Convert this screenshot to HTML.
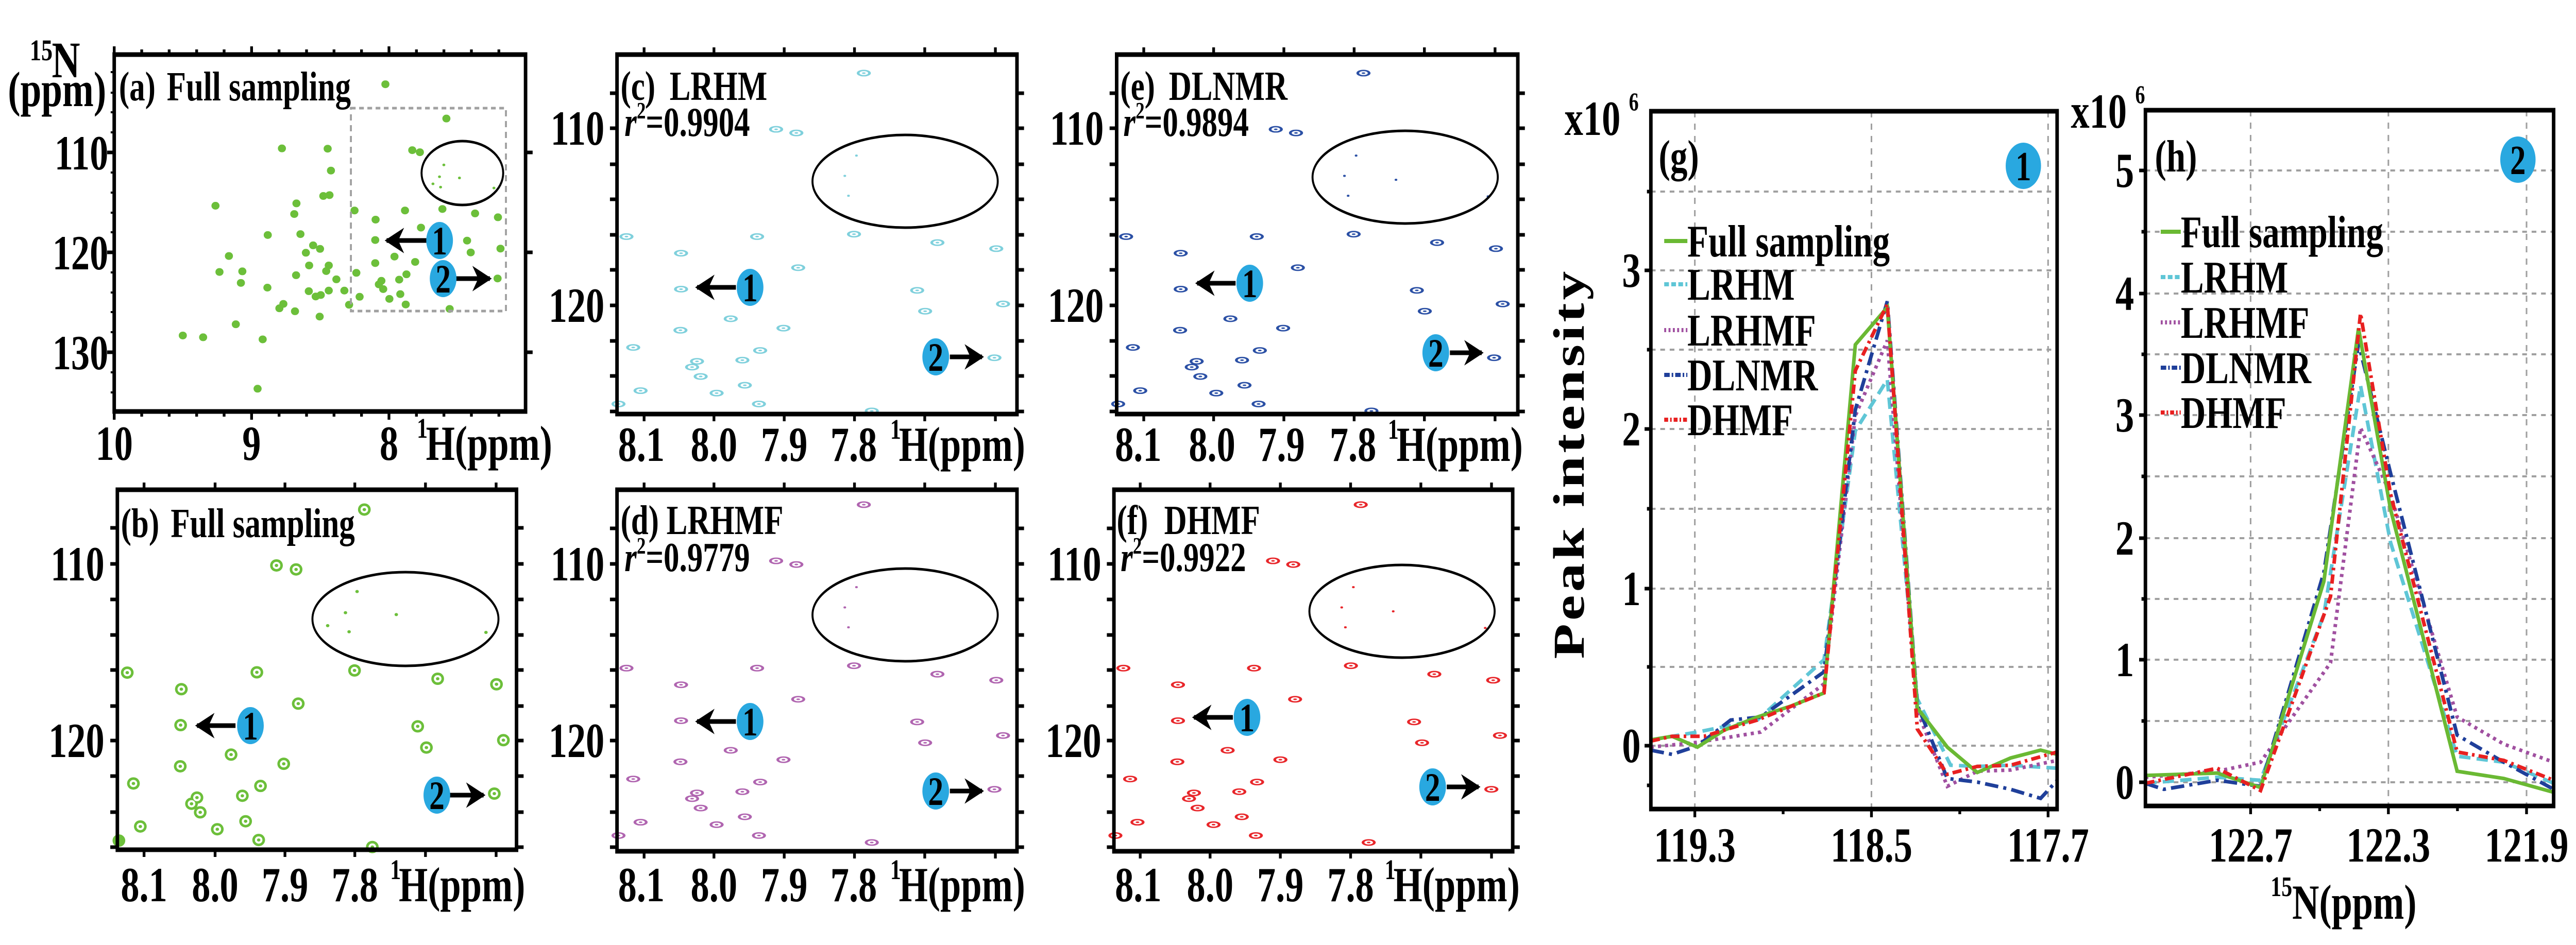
<!DOCTYPE html>
<html><head><meta charset="utf-8"><style>
html,body{margin:0;padding:0;background:#fff;width:100vw;height:100vh;overflow:hidden;}
svg{display:block;width:100vw;height:100vh;}
text{font-family:"Liberation Serif",serif;font-weight:bold;fill:#000;}
.ns{vector-effect:non-scaling-stroke;}
</style></head><body>
<svg width="100%" height="100%" viewBox="0 0 6563 1835" preserveAspectRatio="none" xmlns="http://www.w3.org/2000/svg">
<defs>
<marker id="ah" viewBox="0 0 10 10" refX="9" refY="5" markerWidth="6" markerHeight="5.5" orient="auto" markerUnits="strokeWidth"><path d="M0 0 L10 5 L0 10 L3 5 Z" fill="#000"/></marker>
<path id="pkc" d="M480 242h1M337 428h1M370 440h1M93 783h1M306 783h1M464 775h1M600 803h1M182 838h1M696 823h1M373 886h1M182 957h1M567 961h1M707 1006h1M580 1030h1M263 1055h1M349 1086h1M181 1093h1M104 1150h1M311 1160h1M693 1184h1M282 1192h1M208 1196h1M200 1215h1M214 1246h1M116 1293h1M286 1275h1M240 1301h1M309 1337h1M493 1360h1M80 1337h1"/>
</defs>

<!-- ================= PANEL A ================= -->
<g transform="scale(0.925,0.574)">
<path class="ns" fill="none" stroke="#6cbf3a" stroke-width="15" stroke-linecap="round" d="M1061 285h1M1229 401h1M776 502h1M902 503h1M1135 508h1M1156 515h1M911 577h1M890 663h1M907 660h1M593 696h1M816 688h1M810 724h1M976 712h1M1115 712h1M1218 707h1M1308 722h1M1371 735h1M1034 743h1M1159 770h1M737 795h1M827 792h1M1033 812h1M1286 814h1M862 830h1M881 842h1M842 855h1M630 866h1M1086 868h1M1296 854h1M1378 841h1M1143 886h1M1033 890h1M604 920h1M667 918h1M851 898h1M905 898h1M898 917h1M981 923h1M1119 928h1M815 931h1M926 945h1M1050 950h1M1043 962h1M663 957h1M1055 978h1M1099 946h1M736 973h1M850 985h1M869 1003h1M883 998h1M905 983h1M948 983h1M990 1004h1M1102 995h1M1072 1011h1M1117 1030h1M961 1031h1M780 1028h1M769 1043h1M812 1053h1M1370 942h1M1238 1045h1M880 1071h1M649 1097h1M503 1135h1M559 1141h1M723 1148h1M709 1315h1"/>
<path class="ns" fill="none" stroke="#6cbf3a" stroke-width="5" stroke-linecap="round" d="M1222 558h1M1210 598h1M1265 602h1M1192 622h1M1213 633h1M1360 636h1"/>
</g>
<rect x="894" y="210" width="395" height="394" fill="none" stroke="#a0a0a0" stroke-width="5" stroke-dasharray="12 9"/>
<ellipse cx="1178" cy="336" rx="104" ry="62" fill="none" stroke="#000" stroke-width="5"/>
<rect x="291" y="106" width="1048" height="693" fill="none" stroke="#000" stroke-width="9"/>
<path stroke="#000" stroke-width="7" d="M291 296h-18M291 490h-18M291 684h-18M1339 296h18M1339 490h18M1339 684h18M291 106v-16M641 106v-16M991 106v-16M291 799v16M641 799v16M991 799v16M361 106v-10M431 106v-10M501 106v-10M571 106v-10M711 106v-10M781 106v-10M851 106v-10M921 106v-10M1061 106v-10M1131 106v-10M1201 106v-10M1271 106v-10M361 799v10M431 799v10M501 799v10M571 799v10M711 799v10M781 799v10M851 799v10M921 799v10M1061 799v10M1131 799v10M1201 799v10M1271 799v10"/>
<path stroke="#000" stroke-width="4" d="M291 140h-9M291 180h-9M291 218h-9M291 257h-9M291 335h-9M291 374h-9M291 413h-9M291 451h-9M291 529h-9M291 568h-9M291 606h-9M291 645h-9M291 723h-9M291 762h-9"/>
<text x="76" y="117" font-size="58">15</text><text x="132" y="150" font-size="100">N</text>
<text x="20" y="206" font-size="96">(ppm)</text>
<text x="303" y="195" font-size="80">(a)</text><text x="425" y="195" font-size="80">Full sampling</text>
<text x="276" y="329" font-size="95" text-anchor="end">110</text>
<text x="276" y="523" font-size="95" text-anchor="end">120</text>
<text x="276" y="717" font-size="95" text-anchor="end">130</text>
<text x="291" y="893" font-size="95" text-anchor="middle">10</text>
<text x="641" y="893" font-size="95" text-anchor="middle">9</text>
<text x="991" y="893" font-size="95" text-anchor="middle">8</text>
<text x="1062" y="850" font-size="55">1</text><text x="1085" y="893" font-size="95">H(ppm)</text>
<line x1="1087" y1="467" x2="985" y2="467" stroke="#000" stroke-width="9" marker-end="url(#ah)"/>
<ellipse cx="1120" cy="467" rx="34" ry="36" fill="#29a8e0"/><text x="1120" y="494" font-size="78" text-anchor="middle">1</text>
<line x1="1160" y1="541" x2="1248" y2="541" stroke="#000" stroke-width="9" marker-end="url(#ah)"/>
<ellipse cx="1129" cy="541" rx="34" ry="36" fill="#29a8e0"/><text x="1129" y="568" font-size="78" text-anchor="middle">2</text>

<!-- ================= PANEL B ================= -->
<g transform="translate(0,900) scale(0.925,0.5963)">
<path class="ns" fill="none" stroke="#6cbf3a" stroke-width="24" stroke-linecap="round" d="M1003 150h1M761 332h1M815 345h1M350 681h1M707 680h1M976 674h1M1205 701h1M499 735h1M1367 719h1M821 782h1M497 852h1M1150 856h1M1386 901h1M1174 925h1M636 948h1M781 978h1M496 986h1M367 1042h1M717 1050h1M1361 1075h1M667 1082h1M542 1088h1M527 1108h1M551 1136h1M386 1182h1M676 1165h1M598 1191h1M712 1226h1M1025 1249h1M327 1228h1"/>
<path class="ns" fill="none" stroke="#fff" stroke-width="14" stroke-linecap="round" d="M1003 150h1M761 332h1M815 345h1M350 681h1M707 680h1M976 674h1M1205 701h1M499 735h1M1367 719h1M821 782h1M497 852h1M1150 856h1M1386 901h1M1174 925h1M636 948h1M781 978h1M496 986h1M367 1042h1M717 1050h1M1361 1075h1M667 1082h1M542 1088h1M527 1108h1M551 1136h1M386 1182h1M676 1165h1M598 1191h1M712 1226h1M1025 1249h1"/>
<path class="ns" fill="none" stroke="#6cbf3a" stroke-width="6" stroke-linecap="round" d="M1003 150h1M761 332h1M815 345h1M350 681h1M707 680h1M976 674h1M1205 701h1M499 735h1M1367 719h1M821 782h1M497 852h1M1150 856h1M1386 901h1M1174 925h1M636 948h1M781 978h1M496 986h1M367 1042h1M717 1050h1M1361 1075h1M667 1082h1M542 1088h1M527 1108h1M551 1136h1M386 1182h1M676 1165h1M598 1191h1M712 1226h1M1025 1249h1M983 417h1M951 486h1M1091 492h1M902 528h1M961 548h1M1338 550h1"/>
</g>
<ellipse cx="1033" cy="1202" rx="237" ry="91" fill="none" stroke="#000" stroke-width="5"/>
<rect x="299" y="951" width="1017" height="699" fill="none" stroke="#000" stroke-width="9"/>
<path stroke="#000" stroke-width="7" d="M299 1025h-18M299 1095h-18M299 1164h-18M299 1233h-18M299 1301h-18M299 1371h-18M299 1438h-18M299 1507h-18M299 1577h-18M299 1645h-18M1316 1025h18M1316 1095h18M1316 1164h18M1316 1233h18M1316 1301h18M1316 1371h18M1316 1438h18M1316 1507h18M1316 1577h18M1316 1645h18M367 951v-14M548 951v-14M726 951v-14M904 951v-14M1084 951v-14M1264 951v-14M367 1650v14M548 1650v14M726 1650v14M904 1650v14M1084 1650v14M1264 1650v14"/>
<text x="308" y="1043" font-size="80">(b)</text><text x="435" y="1043" font-size="80">Full sampling</text>
<text x="266" y="1127" font-size="95" text-anchor="end">110</text>
<text x="266" y="1470" font-size="95" text-anchor="end">120</text>
<text x="367" y="1750" font-size="95" text-anchor="middle">8.1</text>
<text x="548" y="1750" font-size="95" text-anchor="middle">8.0</text>
<text x="726" y="1750" font-size="95" text-anchor="middle">7.9</text>
<text x="904" y="1750" font-size="95" text-anchor="middle">7.8</text>
<text x="994" y="1707" font-size="55">1</text><text x="1016" y="1750" font-size="95">H(ppm)</text>
<line x1="600" y1="1409" x2="502" y2="1409" stroke="#000" stroke-width="9" marker-end="url(#ah)"/>
<ellipse cx="638" cy="1409" rx="34" ry="36" fill="#29a8e0"/><text x="638" y="1436" font-size="78" text-anchor="middle">1</text>
<line x1="1145" y1="1544" x2="1232" y2="1544" stroke="#000" stroke-width="9" marker-end="url(#ah)"/>
<ellipse cx="1113" cy="1544" rx="34" ry="36" fill="#29a8e0"/><text x="1113" y="1571" font-size="78" text-anchor="middle">2</text>

<!-- ================= PANELS C, E, D, F peaks ================= -->
<g transform="translate(1450,0) scale(1.5625,0.5867)">
<use href="#pkc" class="ns" fill="none" stroke="#7fd0dc" stroke-width="22" stroke-linecap="round"/>
<use href="#pkc" class="ns" fill="none" stroke="#fff" stroke-width="13" stroke-linecap="round"/>
<use href="#pkc" class="ns" fill="none" stroke="#7fd0dc" stroke-width="5" stroke-linecap="round"/>
<path class="ns" fill="none" stroke="#7fd0dc" stroke-width="4" stroke-linecap="round" d="M468 515h1M449 582h1M455 648h1"/>
</g>
<g transform="translate(2723,0) scale(1.5625,0.5867)">
<use href="#pkc" class="ns" fill="none" stroke="#2b50a5" stroke-width="22" stroke-linecap="round"/>
<use href="#pkc" class="ns" fill="none" stroke="#fff" stroke-width="13" stroke-linecap="round"/>
<use href="#pkc" class="ns" fill="none" stroke="#2b50a5" stroke-width="5" stroke-linecap="round"/>
<path class="ns" fill="none" stroke="#2b50a5" stroke-width="4" stroke-linecap="round" d="M468 515h1M449 582h1M455 648h1M533 595h1M683 650h1"/>
</g>
<g transform="translate(1450,838) scale(1.5625,0.5867)">
<use href="#pkc" class="ns" fill="none" stroke="#b065b0" stroke-width="22" stroke-linecap="round"/>
<use href="#pkc" class="ns" fill="none" stroke="#fff" stroke-width="13" stroke-linecap="round"/>
<use href="#pkc" class="ns" fill="none" stroke="#b065b0" stroke-width="5" stroke-linecap="round"/>
<path class="ns" fill="none" stroke="#b065b0" stroke-width="4" stroke-linecap="round" d="M468 515h1M449 582h1M455 648h1"/>
</g>
<g transform="translate(2716,838) scale(1.5625,0.5867)">
<use href="#pkc" class="ns" fill="none" stroke="#e8262a" stroke-width="22" stroke-linecap="round"/>
<use href="#pkc" class="ns" fill="none" stroke="#fff" stroke-width="13" stroke-linecap="round"/>
<use href="#pkc" class="ns" fill="none" stroke="#e8262a" stroke-width="5" stroke-linecap="round"/>
<path class="ns" fill="none" stroke="#e8262a" stroke-width="4" stroke-linecap="round" d="M468 515h1M449 582h1M455 648h1M533 595h1M683 650h1"/>
</g>

<!-- frames c,e,d,f -->
<g fill="none" stroke="#000" stroke-width="5">
<ellipse cx="2306" cy="352" rx="236" ry="90"/>
<ellipse cx="3580" cy="344" rx="236" ry="90"/>
<ellipse cx="2306" cy="1194" rx="236" ry="90"/>
<ellipse cx="3572" cy="1187" rx="236" ry="90"/>
</g>
<g fill="none" stroke="#000" stroke-width="9">
<rect x="1572" y="106" width="1019" height="698"/>
<rect x="2845" y="106" width="1022" height="698"/>
<rect x="1572" y="951" width="1019" height="702"/>
<rect x="2838" y="951" width="1016" height="702"/>
</g>
<path stroke="#000" stroke-width="7" d="M1572 181h-18M1572 249h-18M1572 319h-18M1572 387h-18M1572 456h-18M1572 524h-18M1572 593h-18M1572 662h-18M1572 730h-18M1572 799h-18M2591 181h18M2591 249h18M2591 319h18M2591 387h18M2591 456h18M2591 524h18M2591 593h18M2591 662h18M2591 730h18M2591 799h18
M2845 181h-18M2845 249h-18M2845 319h-18M2845 387h-18M2845 456h-18M2845 524h-18M2845 593h-18M2845 662h-18M2845 730h-18M2845 799h-18M3867 181h18M3867 249h18M3867 319h18M3867 387h18M3867 456h18M3867 524h18M3867 593h18M3867 662h18M3867 730h18M3867 799h18
M1641 106v-14M1819 106v-14M1998 106v-14M2177 106v-14M2356 106v-14M2536 106v-14M1641 804v14M1819 804v14M1998 804v14M2177 804v14M2356 804v14M2536 804v14
M2914 106v-14M3092 106v-14M3271 106v-14M3450 106v-14M3629 106v-14M3809 106v-14M2914 804v14M3092 804v14M3271 804v14M3450 804v14M3629 804v14M3809 804v14
M1572 1026h-18M1572 1095h-18M1572 1164h-18M1572 1233h-18M1572 1301h-18M1572 1371h-18M1572 1438h-18M1572 1507h-18M1572 1577h-18M1572 1645h-18M2591 1026h18M2591 1095h18M2591 1164h18M2591 1233h18M2591 1301h18M2591 1371h18M2591 1438h18M2591 1507h18M2591 1577h18M2591 1645h18
M2838 1026h-18M2838 1095h-18M2838 1164h-18M2838 1233h-18M2838 1301h-18M2838 1371h-18M2838 1438h-18M2838 1507h-18M2838 1577h-18M2838 1645h-18M3854 1026h18M3854 1095h18M3854 1164h18M3854 1233h18M3854 1301h18M3854 1371h18M3854 1438h18M3854 1507h18M3854 1577h18M3854 1645h18
M1641 951v-14M1819 951v-14M1998 951v-14M2177 951v-14M2356 951v-14M2536 951v-14M1641 1653v14M1819 1653v14M1998 1653v14M2177 1653v14M2356 1653v14M2536 1653v14
M2905 951v-14M3083 951v-14M3262 951v-14M3441 951v-14M3620 951v-14M3800 951v-14M2905 1653v14M3083 1653v14M3262 1653v14M3441 1653v14M3620 1653v14M3800 1653v14"/>

<!-- labels c -->
<text x="1581" y="194" font-size="80">(c)</text><text x="1706" y="194" font-size="80">LRHM</text>
<text x="1591" y="264" font-size="80"><tspan font-style="italic">r</tspan><tspan font-size="46" dy="-34">2</tspan><tspan dy="34">=0.9904</tspan></text>
<text x="1540" y="281" font-size="95" text-anchor="end">110</text>
<text x="1540" y="625" font-size="95" text-anchor="end">120</text>
<text x="1634" y="895" font-size="95" text-anchor="middle">8.1</text>
<text x="1819" y="895" font-size="95" text-anchor="middle">8.0</text>
<text x="1998" y="895" font-size="95" text-anchor="middle">7.9</text>
<text x="2175" y="895" font-size="95" text-anchor="middle">7.8</text>
<text x="2268" y="852" font-size="55">1</text><text x="2290" y="895" font-size="95">H(ppm)</text>
<!-- labels e -->
<text x="2854" y="194" font-size="80">(e)</text><text x="2978" y="194" font-size="80">DLNMR</text>
<text x="2862" y="264" font-size="80"><tspan font-style="italic">r</tspan><tspan font-size="46" dy="-34">2</tspan><tspan dy="34">=0.9894</tspan></text>
<text x="2812" y="281" font-size="95" text-anchor="end">110</text>
<text x="2812" y="625" font-size="95" text-anchor="end">120</text>
<text x="2900" y="895" font-size="95" text-anchor="middle">8.1</text>
<text x="3088" y="895" font-size="95" text-anchor="middle">8.0</text>
<text x="3265" y="895" font-size="95" text-anchor="middle">7.9</text>
<text x="3447" y="895" font-size="95" text-anchor="middle">7.8</text>
<text x="3536" y="852" font-size="55">1</text><text x="3558" y="895" font-size="95">H(ppm)</text>
<!-- labels d -->
<text x="1581" y="1037" font-size="80">(d)</text><text x="1698" y="1037" font-size="80">LRHMF</text>
<text x="1591" y="1109" font-size="80"><tspan font-style="italic">r</tspan><tspan font-size="46" dy="-34">2</tspan><tspan dy="34">=0.9779</tspan></text>
<text x="1540" y="1127" font-size="95" text-anchor="end">110</text>
<text x="1540" y="1470" font-size="95" text-anchor="end">120</text>
<text x="1634" y="1750" font-size="95" text-anchor="middle">8.1</text>
<text x="1819" y="1750" font-size="95" text-anchor="middle">8.0</text>
<text x="1998" y="1750" font-size="95" text-anchor="middle">7.9</text>
<text x="2175" y="1750" font-size="95" text-anchor="middle">7.8</text>
<text x="2268" y="1707" font-size="55">1</text><text x="2290" y="1750" font-size="95">H(ppm)</text>
<!-- labels f -->
<text x="2845" y="1037" font-size="80">(f)</text><text x="2966" y="1037" font-size="80">DHMF</text>
<text x="2855" y="1109" font-size="80"><tspan font-style="italic">r</tspan><tspan font-size="46" dy="-34">2</tspan><tspan dy="34">=0.9922</tspan></text>
<text x="2806" y="1127" font-size="95" text-anchor="end">110</text>
<text x="2806" y="1470" font-size="95" text-anchor="end">120</text>
<text x="2900" y="1750" font-size="95" text-anchor="middle">8.1</text>
<text x="3083" y="1750" font-size="95" text-anchor="middle">8.0</text>
<text x="3262" y="1750" font-size="95" text-anchor="middle">7.9</text>
<text x="3441" y="1750" font-size="95" text-anchor="middle">7.8</text>
<text x="3528" y="1707" font-size="55">1</text><text x="3550" y="1750" font-size="95">H(ppm)</text>

<!-- badges c,e,d,f -->
<g stroke="#000" stroke-width="9">
<line x1="1875" y1="558" x2="1776" y2="558" marker-end="url(#ah)"/>
<line x1="2420" y1="693" x2="2502" y2="693" marker-end="url(#ah)"/>
<line x1="3148" y1="550" x2="3050" y2="550" marker-end="url(#ah)"/>
<line x1="3694" y1="685" x2="3775" y2="685" marker-end="url(#ah)"/>
<line x1="1875" y1="1401" x2="1776" y2="1401" marker-end="url(#ah)"/>
<line x1="2420" y1="1536" x2="2502" y2="1536" marker-end="url(#ah)"/>
<line x1="3141" y1="1393" x2="3042" y2="1393" marker-end="url(#ah)"/>
<line x1="3686" y1="1528" x2="3767" y2="1528" marker-end="url(#ah)"/>
</g>
<g fill="#29a8e0">
<ellipse cx="1911" cy="558" rx="34" ry="36"/><ellipse cx="2384" cy="693" rx="34" ry="36"/>
<ellipse cx="3184" cy="550" rx="34" ry="36"/><ellipse cx="3658" cy="685" rx="34" ry="36"/>
<ellipse cx="1911" cy="1401" rx="34" ry="36"/><ellipse cx="2384" cy="1536" rx="34" ry="36"/>
<ellipse cx="3177" cy="1393" rx="34" ry="36"/><ellipse cx="3650" cy="1528" rx="34" ry="36"/>
</g>
<g font-size="78" text-anchor="middle">
<text x="1911" y="585">1</text><text x="2384" y="720">2</text>
<text x="3184" y="577">1</text><text x="3658" y="712">2</text>
<text x="1911" y="1428">1</text><text x="2384" y="1563">2</text>
<text x="3177" y="1420">1</text><text x="3650" y="1555">2</text>
</g>

<!-- ================= PANELS G, H ================= -->
<g fill="none" stroke="#a0a0a0" stroke-width="4" stroke-dasharray="12 12">
<path d="M4318 216V1571M4768 216V1571M5218 216V1571M4206 1448H5241M4206 1295H5241M4206 1143H5241M4206 988H5241M4206 833H5241M4206 679H5241M4206 525H5241M4206 372H5241"/>
<path d="M5734 214V1565M6085 214V1565M6437 214V1565M5466 1519H6506M5466 1400H6506M5466 1281H6506M5466 1163H6506M5466 1045H6506M5466 925H6506M5466 806H6506M5466 688H6506M5466 570H6506M5466 450H6506M5466 331H6506"/>
</g>
<g transform="translate(3900,0) scale(1.698,1.170)" fill="none" stroke-width="7">
<polyline class="ns" stroke="#5fc6d6" stroke-dasharray="22 12" points="180,1228 250,1215 340,1195 440,1095 487,715 535,630 580,1160 630,1270 670,1272 720,1270 790,1275"/>
<polyline class="ns" stroke="#a050a0" stroke-dasharray="6 8" points="180,1240 250,1232 345,1215 440,1135 487,690 535,565 580,1180 625,1305 670,1280 720,1278 790,1262"/>
<polyline class="ns" stroke="#1f3f9a" stroke-dasharray="26 10 6 10" points="180,1245 212,1252 250,1238 300,1195 345,1190 440,1115 487,680 535,500 580,1170 625,1292 670,1298 720,1310 765,1325 790,1295"/>
<polyline class="ns" stroke="#6ab933" points="180,1228 212,1222 250,1240 290,1212 340,1190 390,1172 440,1150 487,572 535,510 580,1175 625,1240 670,1282 720,1258 765,1245 790,1252"/>
<polyline class="ns" stroke="#e82020" stroke-dasharray="18 8 5 8" points="180,1230 212,1222 260,1222 340,1195 440,1150 487,615 535,505 580,1210 625,1285 670,1272 720,1270 790,1248"/>

<polyline class="ns" stroke="#5fc6d6" stroke-dasharray="22 12" points="922,1300 1030,1290 1095,1295 1190,1020 1245,640 1290,900 1390,1255 1460,1265 1535,1300"/>
<polyline class="ns" stroke="#a050a0" stroke-dasharray="6 8" points="922,1290 1030,1280 1095,1265 1200,1100 1245,710 1290,820 1390,1190 1460,1235 1535,1265"/>
<polyline class="ns" stroke="#1f3f9a" stroke-dasharray="26 10 6 10" points="922,1300 950,1310 1030,1295 1095,1305 1190,950 1242,570 1290,785 1390,1220 1460,1265 1535,1310"/>
<polyline class="ns" stroke="#6ab933" points="922,1287 1030,1283 1095,1307 1190,965 1242,545 1290,845 1390,1280 1460,1292 1535,1315"/>
<polyline class="ns" stroke="#e82020" stroke-dasharray="18 8 5 8" points="922,1300 1030,1275 1095,1312 1200,990 1245,520 1290,820 1390,1248 1460,1262 1535,1295"/>
</g>
<rect x="4206" y="216" width="1035" height="1355" fill="none" stroke="#000" stroke-width="9"/>
<rect x="5466" y="214" width="1040" height="1351" fill="none" stroke="#000" stroke-width="9"/>
<path stroke="#000" stroke-width="7" d="M4206 1448h-16M4206 1143h-16M4206 833h-16M4206 525h-16M4206 1295h-10M4206 988h-10M4206 679h-10M4206 372h-10M4206 1525h-10M4318 1571v16M4768 1571v16M5218 1571v16M4543 1571v10M4993 1571v10
M5466 1519h-16M5466 1281h-16M5466 1045h-16M5466 806h-16M5466 570h-16M5466 331h-16M5466 1400h-10M5466 1163h-10M5466 925h-10M5466 688h-10M5466 450h-10M5734 1565v16M6085 1565v16M6437 1565v16M5910 1565v10M6261 1565v10"/>
<!-- legend lines -->
<g stroke-width="8" fill="none">
<path d="M4240 468h59M5505 450h51" stroke="#6ab933"/>
<path d="M4240 552h59M5505 538h51" stroke="#5fc6d6" stroke-dasharray="12 6"/>
<path d="M4240 641h59M5505 626h51" stroke="#a050a0" stroke-dasharray="5 6"/>
<path d="M4240 728h59M5505 714h51" stroke="#1f3f9a" stroke-dasharray="14 5 4 5"/>
<path d="M4240 815h59M5505 801h51" stroke="#e82020" stroke-dasharray="10 5 4 5"/>
</g>
<g font-size="88">
<text x="4299" y="498">Full sampling</text><text x="4299" y="582">LRHM</text><text x="4299" y="671">LRHMF</text><text x="4299" y="758">DLNMR</text><text x="4299" y="845">DHMF</text>
<text x="5556" y="480">Full sampling</text><text x="5556" y="568">LRHM</text><text x="5556" y="656">LRHMF</text><text x="5556" y="744">DLNMR</text><text x="5556" y="831">DHMF</text>
</g>
<text x="4226" y="333" font-size="88">(g)</text>
<text x="5490" y="333" font-size="88">(h)</text>
<circle cx="5155" cy="322" r="45" fill="#29a8e0"/><text x="5155" y="350" font-size="80" text-anchor="middle">1</text>
<circle cx="6415" cy="310" r="45" fill="#29a8e0"/><text x="6415" y="338" font-size="80" text-anchor="middle">2</text>
<text x="3986" y="262" font-size="95">x10</text><text x="4150" y="214" font-size="50">6</text>
<text x="5276" y="248" font-size="95">x10</text><text x="5440" y="200" font-size="50">6</text>
<text x="4180" y="1480" font-size="95" text-anchor="end">0</text>
<text x="4180" y="1175" font-size="95" text-anchor="end">1</text>
<text x="4180" y="865" font-size="95" text-anchor="end">2</text>
<text x="4180" y="557" font-size="95" text-anchor="end">3</text>
<text x="5437" y="1551" font-size="95" text-anchor="end">0</text>
<text x="5437" y="1313" font-size="95" text-anchor="end">1</text>
<text x="5437" y="1077" font-size="95" text-anchor="end">2</text>
<text x="5437" y="838" font-size="95" text-anchor="end">3</text>
<text x="5437" y="602" font-size="95" text-anchor="end">4</text>
<text x="5437" y="363" font-size="95" text-anchor="end">5</text>
<text x="4318" y="1673" font-size="95" text-anchor="middle">119.3</text>
<text x="4768" y="1673" font-size="95" text-anchor="middle">118.5</text>
<text x="5218" y="1673" font-size="95" text-anchor="middle">117.7</text>
<text x="5734" y="1673" font-size="95" text-anchor="middle">122.7</text>
<text x="6085" y="1673" font-size="95" text-anchor="middle">122.3</text>
<text x="6437" y="1673" font-size="95" text-anchor="middle">121.9</text>
<text x="5785" y="1740" font-size="55">15</text><text x="5840" y="1784" font-size="95">N(ppm)</text>
<text transform="translate(4035,900) rotate(-90)" font-size="112" text-anchor="middle" letter-spacing="6">Peak intensity</text>
</svg>
</body></html>
